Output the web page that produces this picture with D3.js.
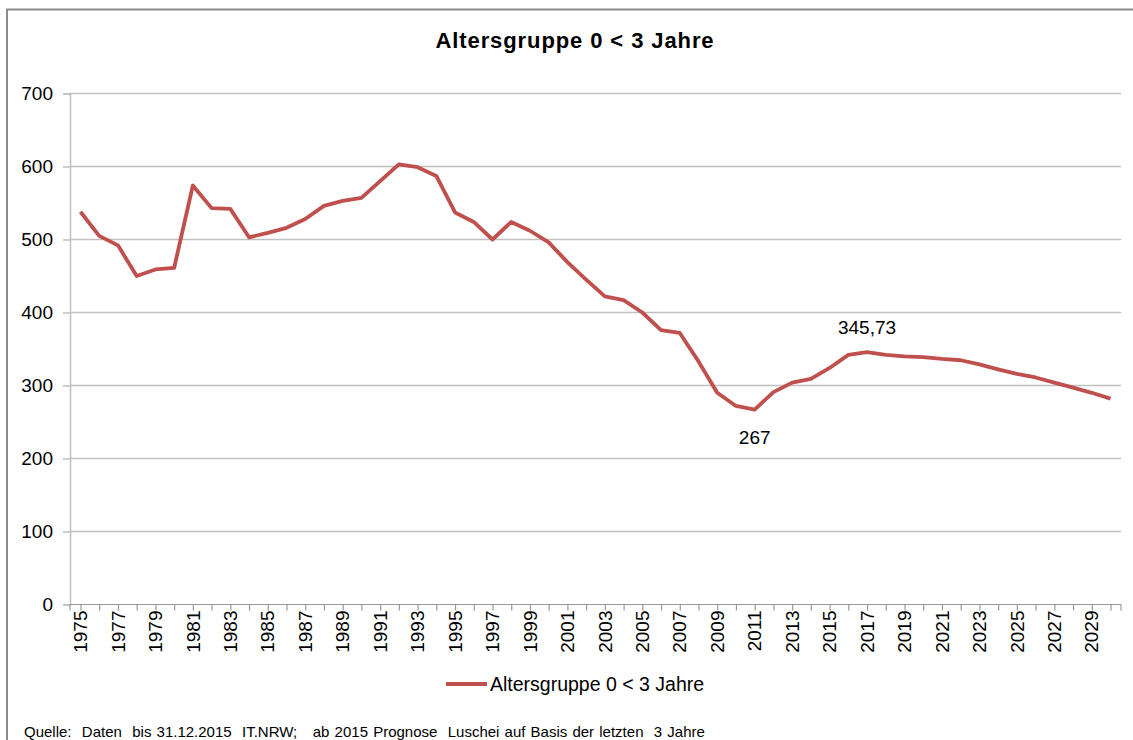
<!DOCTYPE html>
<html>
<head>
<meta charset="utf-8">
<script src="https://cdn.jsdelivr.net/npm/d3@7"></script>
<style>
  body { margin: 0; background: #fff; }
  svg { display: block; font-family: "Liberation Sans", Arial, sans-serif; }
</style>
</head>
<body>
<div id="chart"></div>
<script>
// categories (years) and values
const years = [1975, 1976, 1977, 1978, 1979, 1980, 1981, 1982, 1983, 1984,
  1985, 1986, 1987, 1988, 1989, 1990, 1991, 1992, 1993, 1994,
  1995, 1996, 1997, 1998, 1999, 2000, 2001, 2002, 2003, 2004,
  2005, 2006, 2007, 2008, 2009, 2010, 2011, 2012, 2013, 2014,
  2015, 2016, 2017, 2018, 2019, 2020, 2021, 2022, 2023, 2024,
  2025, 2026, 2027, 2028, 2029, 2030];
const values = [538, 505, 492, 450, 459, 461, 574, 543, 542, 503,
  509, 516, 528, 546, 553, 557, 580, 603, 599, 587,
  537, 524, 500, 524, 512, 496, 469, 445, 422, 417,
  400, 376, 372, 333, 290, 272, 267, 291, 304, 309,
  324, 342, 345.73, 342, 340, 339, 336.5, 334.6, 329, 322,
  316, 311, 304, 297, 290, 282];
const yTicks = [0, 100, 200, 300, 400, 500, 600, 700];
const labelYears = [2011, 2017];
const labelTexts = ["267", "345,73"];
const seriesName = "Altersgruppe 0 < 3 Jahre";
const title = "Altersgruppe 0 < 3 Jahre";
const source = "Quelle:  Daten  bis 31.12.2015  IT.NRW;   ab 2015 Prognose  Luschei auf Basis der letzten  3 Jahre";

const W = 1133, H = 740;
const plot = { left: 70, right: 1121, top: 93.5, bottom: 604.5 };
const red = "#c0504d";
const grid = "#bfbfbf";

const svg = d3.select("#chart").append("svg")
  .attr("width", W).attr("height", H);

svg.append("rect").attr("width", W).attr("height", H).attr("fill", "#fff");

// outer frame (runs off the right and bottom edge)
svg.append("rect")
  .attr("x", 7).attr("y", 9.5)
  .attr("width", W + 20).attr("height", H + 20)
  .attr("fill", "none").attr("stroke", "#8c8c8c").attr("stroke-width", 2);

// title
svg.append("text")
  .attr("x", 575).attr("y", 48)
  .attr("text-anchor", "middle")
  .attr("font-size", 22).attr("font-weight", "bold")
  .attr("letter-spacing", 0.9)
  .text(title);

const x = d3.scalePoint().domain(years).range([plot.left, plot.right]).padding(0.56);
const y = d3.scaleLinear().domain([0, 700]).range([plot.bottom, plot.top]);

// gridlines + y axis
const yAxis = svg.append("g")
  .attr("transform", `translate(${plot.left},0)`)
  .call(d3.axisLeft(y).tickValues(yTicks).tickSize(7).tickPadding(10).tickFormat(d3.format("d")));
yAxis.select(".domain").attr("stroke", grid).attr("stroke-width", 1.5);
yAxis.selectAll(".tick line").attr("stroke", grid).attr("stroke-width", 1.5);
yAxis.selectAll(".tick text").attr("font-size", 19).attr("fill", "#000")
  .attr("font-family", "Liberation Sans, Arial, sans-serif");

svg.append("g").selectAll("line")
  .data(yTicks.filter(d => d > 0))
  .join("line")
  .attr("x1", plot.left).attr("x2", plot.right)
  .attr("y1", d => y(d)).attr("y2", d => y(d))
  .attr("stroke", grid).attr("stroke-width", 1.5);

// x axis: a tick at every year, label every other year
const xAxis = svg.append("g")
  .attr("transform", `translate(0,${plot.bottom})`)
  .call(d3.axisBottom(x).tickSize(6).tickFormat(""));
xAxis.select(".domain").remove();
xAxis.selectAll(".tick line").attr("stroke", "#999").attr("stroke-width", 1.2);
xAxis.append("line")
  .attr("x1", plot.left).attr("x2", plot.right)
  .attr("stroke", "#999").attr("stroke-width", 1.2);
xAxis.selectAll(".endtick")
  .data([plot.left, plot.right])
  .join("line")
  .attr("x1", d => d).attr("x2", d => d)
  .attr("y1", 0).attr("y2", 6)
  .attr("stroke", "#999").attr("stroke-width", 1.2);

svg.append("g").selectAll("text")
  .data(years.filter((d, i) => i % 2 === 0))
  .join("text")
  .attr("transform", d => `translate(${x(d)},${plot.bottom + 6}) rotate(-90)`)
  .attr("text-anchor", "end")
  .attr("dy", "0.35em")
  .attr("font-size", 19)
  .text(d => d);

// the series
const line = d3.line()
  .x((d, i) => x(years[i]))
  .y(d => y(d));

svg.append("path")
  .datum(values)
  .attr("d", line)
  .attr("fill", "none")
  .attr("stroke", red)
  .attr("stroke-width", 3.8)
  .attr("stroke-linejoin", "round");

// data labels
svg.append("g").selectAll("text")
  .data(labelYears)
  .join("text")
  .attr("x", d => x(d))
  .attr("y", (d, i) => y(values[years.indexOf(d)]) + (i === 0 ? 34 : -18))
  .attr("text-anchor", "middle")
  .attr("font-size", 19)
  .text((d, i) => labelTexts[i]);

// legend
const legend = svg.append("g").attr("transform", "translate(446,684)");
legend.append("line")
  .attr("x1", 0).attr("x2", 41)
  .attr("stroke", red).attr("stroke-width", 3.8);
legend.append("text")
  .attr("x", 44).attr("dy", "0.35em")
  .attr("font-size", 19.5)
  .text(seriesName);

// source note
svg.append("text")
  .attr("x", 24).attr("y", 737)
  .attr("font-size", 15)
  .attr("word-spacing", 1)
  .attr("xml:space", "preserve")
  .style("white-space", "pre")
  .text(source);
</script>
</body>
</html>
